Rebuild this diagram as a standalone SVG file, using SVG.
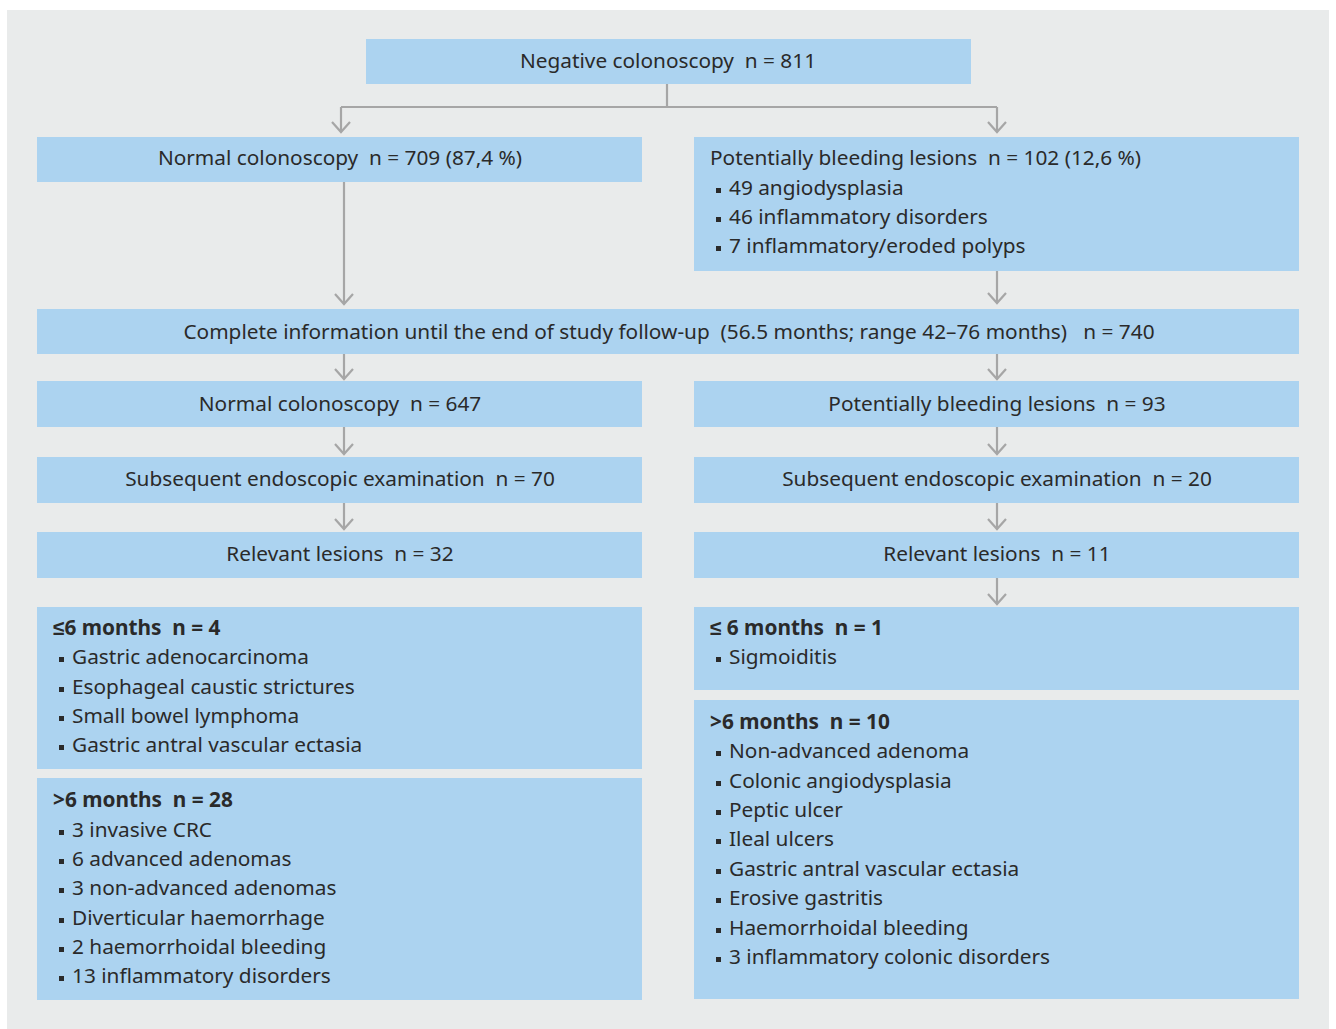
<svg xmlns="http://www.w3.org/2000/svg" width="1336" height="1029" viewBox="0 0 1336 1029">
<defs>
<style>
.bg{fill:#e9ebeb}
.box{fill:#acd3f0}
text{font-family:"Noto Sans","Liberation Sans",sans-serif;font-size:20.8px;fill:#2a2a2a;white-space:pre}
.c{text-anchor:middle}
.b{font-weight:bold}
.ln{stroke:#a6a6a6;stroke-width:2.2;fill:none}
.bl{fill:#2a2a2a}
</style>
<marker id="ad" markerWidth="22" markerHeight="14" refX="11" refY="12" orient="0" markerUnits="userSpaceOnUse" viewBox="0 0 22 14">
<path d="M2,2 L11,12 L20,2" fill="none" stroke="#a6a6a6" stroke-width="2.2"/>
</marker>
</defs>
<rect x="0" y="0" width="1336" height="1029" fill="#ffffff"/>
<rect class="bg" x="7" y="10" width="1322" height="1019"/>

<g id="connectors">
<path class="ln" d="M667,84 V107"/>
<path class="ln" d="M341,107 H997"/>
<path class="ln" d="M341,107 V132" marker-end="url(#ad)"/>
<path class="ln" d="M997,107 V132" marker-end="url(#ad)"/>
<path class="ln" d="M344,182 V304" marker-end="url(#ad)"/>
<path class="ln" d="M997,271 V303" marker-end="url(#ad)"/>
<path class="ln" d="M344,354 V379" marker-end="url(#ad)"/>
<path class="ln" d="M997,354 V379" marker-end="url(#ad)"/>
<path class="ln" d="M344,427 V454" marker-end="url(#ad)"/>
<path class="ln" d="M997,427 V454" marker-end="url(#ad)"/>
<path class="ln" d="M344,503 V529" marker-end="url(#ad)"/>
<path class="ln" d="M997,503 V529" marker-end="url(#ad)"/>
<path class="ln" d="M997,578 V604" marker-end="url(#ad)"/>
</g>

<g id="n-negative">
<rect class="box" x="366" y="39" width="605" height="45"/>
<text class="c" x="668" y="68">Negative colonoscopy  n = 811</text>
</g>

<g id="n-normal">
<rect class="box" x="37" y="137" width="605" height="45"/>
<text class="c" x="340" y="165">Normal colonoscopy  n = 709 (87,4 %)</text>
</g>

<g id="n-pbl">
<rect class="box" x="694" y="137" width="605" height="134"/>
<text x="710" y="165">Potentially bleeding lesions  n = 102 (12,6 %)</text>
<rect class="bl" x="716" y="188" width="5" height="5"/><text x="729" y="195">49 angiodysplasia</text>
<rect class="bl" x="716" y="217" width="5" height="5"/><text x="729" y="224">46 inflammatory disorders</text>
<rect class="bl" x="716" y="246" width="5" height="5"/><text x="729" y="253">7 inflammatory/eroded polyps</text>
</g>

<g id="n-complete">
<rect class="box" x="37" y="309" width="1262" height="45"/>
<text class="c" x="669" y="339">Complete information until the end of study follow-up  (56.5 months; range 42–76 months)   n = 740</text>
</g>

<g id="n-normal647">
<rect class="box" x="37" y="381" width="605" height="46"/>
<text class="c" x="340" y="411">Normal colonoscopy  n = 647</text>
</g>
<g id="n-pbl93">
<rect class="box" x="694" y="381" width="605" height="46"/>
<text class="c" x="997" y="411">Potentially bleeding lesions  n = 93</text>
</g>

<g id="n-subseq-l">
<rect class="box" x="37" y="457" width="605" height="46"/>
<text class="c" x="340" y="486">Subsequent endoscopic examination  n = 70</text>
</g>
<g id="n-subseq-r">
<rect class="box" x="694" y="457" width="605" height="46"/>
<text class="c" x="997" y="486">Subsequent endoscopic examination  n = 20</text>
</g>

<g id="n-rel-l">
<rect class="box" x="37" y="532" width="605" height="46"/>
<text class="c" x="340" y="561">Relevant lesions  n = 32</text>
</g>
<g id="n-rel-r">
<rect class="box" x="694" y="532" width="605" height="46"/>
<text class="c" x="997" y="561">Relevant lesions  n = 11</text>
</g>

<g id="n-le6-l">
<rect class="box" x="37" y="607" width="605" height="162"/>
<text class="b" x="53" y="635">≤6 months  n = 4</text>
<rect class="bl" x="59" y="657" width="5" height="5"/><text x="72" y="664">Gastric adenocarcinoma</text>
<rect class="bl" x="59" y="687" width="5" height="5"/><text x="72" y="694">Esophageal caustic strictures</text>
<rect class="bl" x="59" y="716" width="5" height="5"/><text x="72" y="723">Small bowel lymphoma</text>
<rect class="bl" x="59" y="745" width="5" height="5"/><text x="72" y="752">Gastric antral vascular ectasia</text>
</g>

<g id="n-gt6-l">
<rect class="box" x="37" y="778" width="605" height="222"/>
<text class="b" x="53" y="807">&gt;6 months  n = 28</text>
<rect class="bl" x="59" y="830" width="5" height="5"/><text x="72" y="837">3 invasive CRC</text>
<rect class="bl" x="59" y="859" width="5" height="5"/><text x="72" y="866">6 advanced adenomas</text>
<rect class="bl" x="59" y="888" width="5" height="5"/><text x="72" y="895">3 non-advanced adenomas</text>
<rect class="bl" x="59" y="918" width="5" height="5"/><text x="72" y="925">Diverticular haemorrhage</text>
<rect class="bl" x="59" y="947" width="5" height="5"/><text x="72" y="954">2 haemorrhoidal bleeding</text>
<rect class="bl" x="59" y="976" width="5" height="5"/><text x="72" y="983">13 inflammatory disorders</text>
</g>

<g id="n-le6-r">
<rect class="box" x="694" y="607" width="605" height="83"/>
<text class="b" x="710" y="635">≤ 6 months  n = 1</text>
<rect class="bl" x="716" y="657" width="5" height="5"/><text x="729" y="664">Sigmoiditis</text>
</g>

<g id="n-gt6-r">
<rect class="box" x="694" y="700" width="605" height="299"/>
<text class="b" x="710" y="729">&gt;6 months  n = 10</text>
<rect class="bl" x="716" y="751" width="5" height="5"/><text x="729" y="758">Non-advanced adenoma</text>
<rect class="bl" x="716" y="781" width="5" height="5"/><text x="729" y="788">Colonic angiodysplasia</text>
<rect class="bl" x="716" y="810" width="5" height="5"/><text x="729" y="817">Peptic ulcer</text>
<rect class="bl" x="716" y="839" width="5" height="5"/><text x="729" y="846">Ileal ulcers</text>
<rect class="bl" x="716" y="869" width="5" height="5"/><text x="729" y="876">Gastric antral vascular ectasia</text>
<rect class="bl" x="716" y="898" width="5" height="5"/><text x="729" y="905">Erosive gastritis</text>
<rect class="bl" x="716" y="928" width="5" height="5"/><text x="729" y="935">Haemorrhoidal bleeding</text>
<rect class="bl" x="716" y="957" width="5" height="5"/><text x="729" y="964">3 inflammatory colonic disorders</text>
</g>
</svg>
